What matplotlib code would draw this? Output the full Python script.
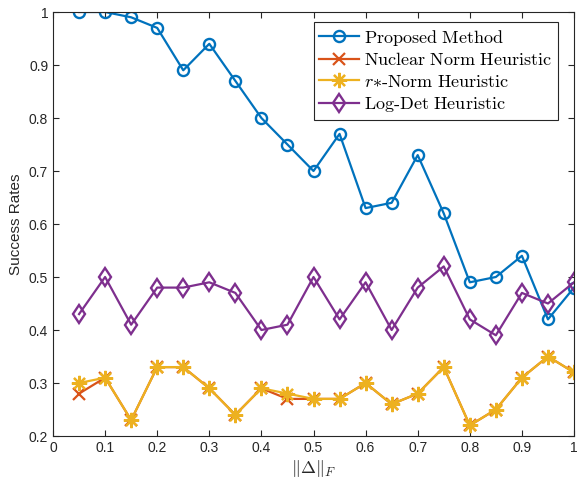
import numpy as np
import matplotlib.pyplot as plt
from matplotlib.ticker import FuncFormatter

plt.rcParams['font.family'] = ['Liberation Sans', 'DejaVu Sans']
plt.rcParams['mathtext.fontset'] = 'cm'
plt.rcParams['savefig.bbox'] = None

x = np.arange(1, 21) * 0.05
proposed = [1.0, 1.0, 0.99, 0.97, 0.89, 0.94, 0.87, 0.80, 0.75, 0.70,
            0.77, 0.63, 0.64, 0.73, 0.62, 0.49, 0.50, 0.54, 0.42, 0.48]
nuclear = [0.28, 0.31, 0.23, 0.33, 0.33, 0.29, 0.24, 0.29, 0.27, 0.27,
           0.27, 0.30, 0.26, 0.28, 0.33, 0.22, 0.25, 0.31, 0.35, 0.32]
rstar = [0.30, 0.31, 0.23, 0.33, 0.33, 0.29, 0.24, 0.29, 0.28, 0.27,
         0.27, 0.30, 0.26, 0.28, 0.33, 0.22, 0.25, 0.31, 0.35, 0.32]
logdet = [0.43, 0.50, 0.41, 0.48, 0.48, 0.49, 0.47, 0.40, 0.41, 0.50,
          0.42, 0.49, 0.40, 0.48, 0.52, 0.42, 0.39, 0.47, 0.45, 0.49]

labels = [r'$\mathrm{Proposed\ Method}$',
          r'$\mathrm{Nuclear\ Norm\ Heuristic}$',
          r'$r{*}\mathrm{\text{-}Norm\ Heuristic}$',
          r'$\mathrm{Log\text{-}Det\ Heuristic}$']

fig = plt.figure(figsize=(5.77, 4.79), dpi=100)
ax = fig.add_axes([53 / 577, 1 - 436 / 479, (574 - 53) / 577, (436 - 12) / 479])

lw = 1.6
ax.plot(x, proposed, '-o', color='#0072BD', lw=lw, ms=8, mfc='none', mew=1.7, label=labels[0])
ax.plot(x, nuclear, '-x', color='#D95319', lw=lw, ms=8, mew=1.6, label=labels[1])
ax.plot(x, rstar, '-', marker=(8, 2, 0), color='#EDB120', lw=lw, ms=11, mew=1.6, label=labels[2])
ax.plot(x, logdet, '-d', color='#7E2F8E', lw=lw, ms=9.5, mfc='none', mew=1.7, label=labels[3])

ax.set_xlim(0, 1)
ax.set_ylim(0.2, 1)
ax.set_xticks(np.arange(0, 1.01, 0.1))
ax.set_yticks(np.arange(0.2, 1.01, 0.1))
fmt = FuncFormatter(lambda v, p: '%g' % round(v, 2))
ax.xaxis.set_major_formatter(fmt)
ax.yaxis.set_major_formatter(fmt)
ax.tick_params(direction='in', top=True, right=True, length=4, width=0.8,
               colors='#262626', labelsize=10)
for s in ax.spines.values():
    s.set_color('#262626')
    s.set_linewidth(0.8)

ax.set_xlabel(r'$\|\Delta\|_F$', fontsize=13, color='#262626', labelpad=2)
ax.set_ylabel('Success Rates', fontsize=11, color='#262626')

leg = ax.legend(loc='upper right', bbox_to_anchor=(0.969, 0.976), fontsize=13,
                fancybox=False, edgecolor='#262626', framealpha=1,
                handlelength=2.2, handletextpad=0.3, borderpad=0.3,
                labelspacing=0.25, borderaxespad=0)
leg.get_frame().set_linewidth(0.8)

fig.savefig('out.png', dpi=100)
